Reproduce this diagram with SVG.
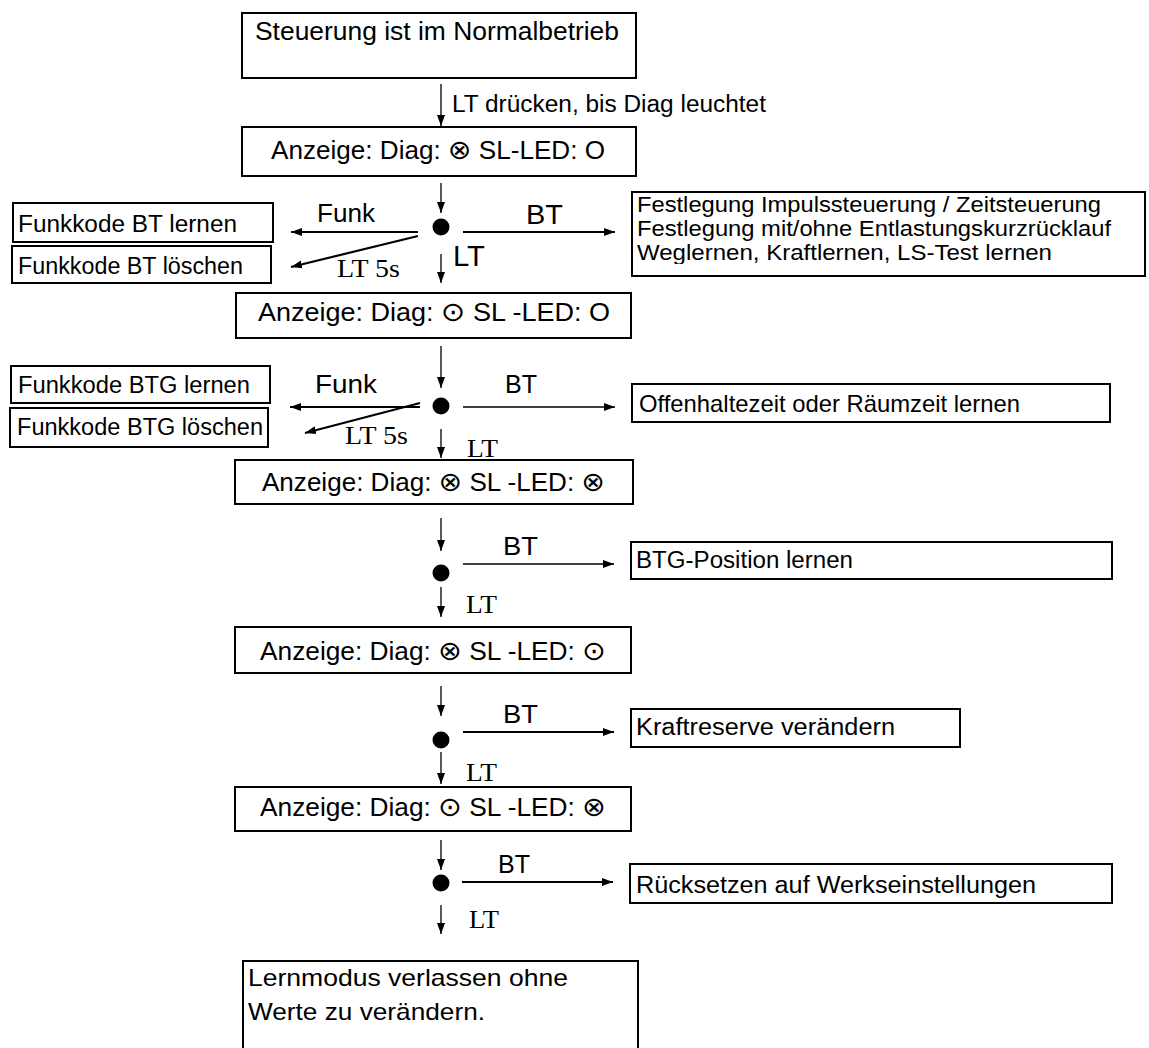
<svg xmlns="http://www.w3.org/2000/svg" width="1149" height="1048" viewBox="0 0 1149 1048">
<style>
.box{fill:#fff;stroke:#000;stroke-width:2}
.t{font-family:"Liberation Sans",Arial,sans-serif;fill:#000}
.s{font-family:"Liberation Serif","Times New Roman",serif;fill:#000}
.c{stroke:#000;fill:none}
.thin{stroke-width:1.3}
.thick{stroke-width:2.2}
.dot{fill:#000}
.sym{font-family:"DejaVu Sans",sans-serif;font-size:27px}
</style>
<defs>
<marker id="ah" markerUnits="userSpaceOnUse" markerWidth="12" markerHeight="9" refX="11" refY="4.5" orient="auto">
<path d="M0,0.5 L11,4.5 L0,8.5 z" fill="#000"/>
</marker>
<clipPath id="clipF"><rect x="632" y="192" width="514" height="72"/></clipPath>
</defs>
<rect width="1149" height="1048" fill="#fff"/>

<g id="n-normal">
<rect class="box" x="242" y="13" width="394" height="65"/>
<text class="t" x="255" y="40" font-size="25" textLength="364" lengthAdjust="spacingAndGlyphs">Steuerung ist im Normalbetrieb</text>
</g>
<g id="n-anz1">
<rect class="box" x="242" y="127" width="394" height="49"/>
<text class="t" x="271" y="159" font-size="25" textLength="334" lengthAdjust="spacingAndGlyphs">Anzeige: Diag: <tspan class="sym">⊗</tspan> SL-LED: O</text>
</g>
<g id="n-funk-bt-lernen">
<rect class="box" x="13" y="203" width="260" height="39"/>
<text class="t" x="18" y="232" font-size="23" textLength="219" lengthAdjust="spacingAndGlyphs">Funkkode BT  lernen</text>
</g>
<g id="n-funk-bt-loeschen">
<rect class="box" x="12" y="246" width="259" height="37"/>
<text class="t" x="18" y="274" font-size="23" textLength="225" lengthAdjust="spacingAndGlyphs">Funkkode BT löschen</text>
</g>
<g id="n-festlegung">
<rect class="box" x="632" y="192" width="513" height="84"/>
<g clip-path="url(#clipF)">
<text class="t" x="637" y="212" font-size="22" textLength="464" lengthAdjust="spacingAndGlyphs">Festlegung Impulssteuerung / Zeitsteuerung</text>
<text class="t" x="637" y="236" font-size="22" textLength="474" lengthAdjust="spacingAndGlyphs">Festlegung mit/ohne Entlastungskurzrücklauf</text>
<text class="t" x="637" y="260" font-size="22" textLength="415" lengthAdjust="spacingAndGlyphs">Weglernen, Kraftlernen, LS-Test lernen</text>
</g>
</g>
<g id="n-anz2">
<rect class="box" x="236" y="293" width="395" height="45"/>
<text class="t" x="258" y="321" font-size="25" textLength="352" lengthAdjust="spacingAndGlyphs">Anzeige: Diag: <tspan class="sym">⊙</tspan> SL -LED: O</text>
</g>
<g id="n-funk-btg-lernen">
<rect class="box" x="11" y="366" width="259" height="37"/>
<text class="t" x="18" y="393" font-size="23" textLength="232" lengthAdjust="spacingAndGlyphs">Funkkode BTG lernen</text>
</g>
<g id="n-funk-btg-loeschen">
<rect class="box" x="10" y="408" width="258" height="39"/>
<text class="t" x="17" y="435" font-size="23" textLength="246" lengthAdjust="spacingAndGlyphs">Funkkode BTG löschen</text>
</g>
<g id="n-offenhalte">
<rect class="box" x="632" y="384" width="478" height="38"/>
<text class="t" x="639" y="412" font-size="24" textLength="381" lengthAdjust="spacingAndGlyphs">Offenhaltezeit oder Räumzeit lernen</text>
</g>
<g id="n-anz3">
<rect class="box" x="235" y="460" width="398" height="44"/>
<text class="t" x="262" y="491" font-size="25" textLength="343" lengthAdjust="spacingAndGlyphs">Anzeige: Diag: <tspan class="sym">⊗</tspan> SL -LED: <tspan class="sym">⊗</tspan></text>
</g>
<g id="n-btg-pos">
<rect class="box" x="631" y="542" width="481" height="37"/>
<text class="t" x="636" y="568" font-size="23" textLength="217" lengthAdjust="spacingAndGlyphs">BTG-Position lernen</text>
</g>
<g id="n-anz4">
<rect class="box" x="235" y="627" width="396" height="46"/>
<text class="t" x="260" y="660" font-size="25" textLength="346" lengthAdjust="spacingAndGlyphs">Anzeige: Diag: <tspan class="sym">⊗</tspan> SL -LED: <tspan class="sym">⊙</tspan></text>
</g>
<g id="n-kraft">
<rect class="box" x="631" y="709" width="329" height="38"/>
<text class="t" x="636" y="735" font-size="23" textLength="259" lengthAdjust="spacingAndGlyphs">Kraftreserve verändern</text>
</g>
<g id="n-anz5">
<rect class="box" x="235" y="787" width="396" height="44"/>
<text class="t" x="260" y="816" font-size="25" textLength="346" lengthAdjust="spacingAndGlyphs">Anzeige: Diag: <tspan class="sym">⊙</tspan> SL -LED: <tspan class="sym">⊗</tspan></text>
</g>
<g id="n-reset">
<rect class="box" x="630" y="864" width="482" height="39"/>
<text class="t" x="636" y="893" font-size="23" textLength="400" lengthAdjust="spacingAndGlyphs">Rücksetzen auf Werkseinstellungen</text>
</g>
<g id="n-exit">
<rect class="box" x="243" y="961" width="395" height="110"/>
<text class="t" x="248" y="986" font-size="24" textLength="320" lengthAdjust="spacingAndGlyphs">Lernmodus verlassen ohne</text>
<text class="t" x="248" y="1020" font-size="24" textLength="237" lengthAdjust="spacingAndGlyphs">Werte zu verändern.</text>
</g>

<g id="decisions">
<circle class="dot" cx="441" cy="227" r="8.5"/>
<circle class="dot" cx="441" cy="406" r="8.5"/>
<circle class="dot" cx="441" cy="573" r="8.5"/>
<circle class="dot" cx="441" cy="740" r="8.5"/>
<circle class="dot" cx="441" cy="883" r="8.5"/>
</g>

<g id="connectors">
<line class="c thin" x1="441" y1="84" x2="441" y2="126" marker-end="url(#ah)"/>
<text class="t" x="452" y="112" font-size="23" textLength="314" lengthAdjust="spacingAndGlyphs">LT drücken, bis Diag leuchtet</text>

<line class="c thin" x1="441" y1="183" x2="441" y2="213" marker-end="url(#ah)"/>
<line class="c thick" x1="418" y1="232" x2="291" y2="232" marker-end="url(#ah)"/>
<text class="t" x="317" y="222" font-size="25" textLength="58" lengthAdjust="spacingAndGlyphs">Funk</text>
<line class="c thick" x1="418" y1="236" x2="291" y2="267" marker-end="url(#ah)"/>
<text class="s" x="337" y="277" font-size="26" textLength="63" lengthAdjust="spacingAndGlyphs">LT 5s</text>
<line class="c thick" x1="463" y1="232" x2="615" y2="232" marker-end="url(#ah)"/>
<text class="t" x="526" y="224" font-size="27" textLength="37" lengthAdjust="spacingAndGlyphs">BT</text>
<line class="c thin" x1="441" y1="254" x2="441" y2="283" marker-end="url(#ah)"/>
<text class="t" x="453" y="266" font-size="29" textLength="32" lengthAdjust="spacingAndGlyphs">LT</text>

<line class="c thin" x1="441" y1="346" x2="441" y2="388" marker-end="url(#ah)"/>
<line class="c thick" x1="420" y1="407" x2="290" y2="407" marker-end="url(#ah)"/>
<text class="t" x="315" y="393" font-size="25" textLength="62" lengthAdjust="spacingAndGlyphs">Funk</text>
<line class="c thick" x1="420" y1="403" x2="305" y2="433" marker-end="url(#ah)"/>
<text class="s" x="345" y="444" font-size="25" textLength="63" lengthAdjust="spacingAndGlyphs">LT 5s</text>
<line class="c thin" x1="463" y1="407" x2="615" y2="407" marker-end="url(#ah)"/>
<text class="t" x="505" y="393" font-size="25" textLength="32" lengthAdjust="spacingAndGlyphs">BT</text>
<line class="c thin" x1="441" y1="429" x2="441" y2="458" marker-end="url(#ah)"/>
<text class="s" x="467" y="457" font-size="26" textLength="31" lengthAdjust="spacingAndGlyphs">LT</text>

<line class="c thin" x1="441" y1="518" x2="441" y2="551" marker-end="url(#ah)"/>
<line class="c thin" x1="463" y1="564" x2="614" y2="564" marker-end="url(#ah)"/>
<text class="t" x="503" y="555" font-size="26" textLength="35" lengthAdjust="spacingAndGlyphs">BT</text>
<line class="c thin" x1="441" y1="587" x2="441" y2="617" marker-end="url(#ah)"/>
<text class="s" x="466" y="613" font-size="26" textLength="31" lengthAdjust="spacingAndGlyphs">LT</text>

<line class="c thin" x1="441" y1="686" x2="441" y2="716" marker-end="url(#ah)"/>
<line class="c thick" x1="463" y1="732" x2="614" y2="732" marker-end="url(#ah)"/>
<text class="t" x="503" y="723" font-size="26" textLength="35" lengthAdjust="spacingAndGlyphs">BT</text>
<line class="c thin" x1="441" y1="752" x2="441" y2="784" marker-end="url(#ah)"/>
<text class="s" x="466" y="781" font-size="26" textLength="31" lengthAdjust="spacingAndGlyphs">LT</text>

<line class="c thin" x1="441" y1="840" x2="441" y2="870" marker-end="url(#ah)"/>
<line class="c thick" x1="462" y1="882" x2="613" y2="882" marker-end="url(#ah)"/>
<text class="t" x="498" y="873" font-size="25" textLength="32" lengthAdjust="spacingAndGlyphs">BT</text>
<line class="c thin" x1="441" y1="905" x2="441" y2="934" marker-end="url(#ah)"/>
<text class="s" x="469" y="928" font-size="26" textLength="30" lengthAdjust="spacingAndGlyphs">LT</text>
</g>
</svg>
